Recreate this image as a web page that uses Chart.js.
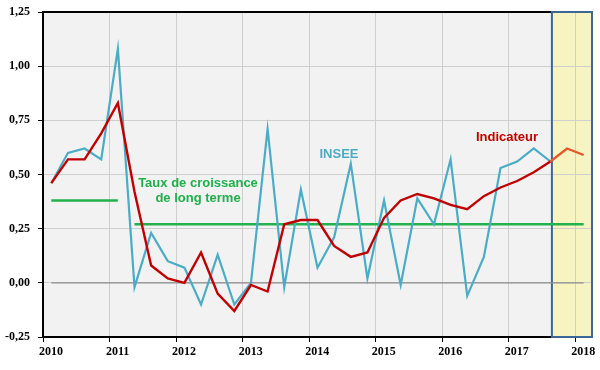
<!DOCTYPE html>
<html>
<head>
<meta charset="utf-8">
<script src="https://cdn.jsdelivr.net/npm/chart.js@4.4.1/dist/chart.umd.min.js"></script>
<style>
  html, body { margin: 0; padding: 0; background: #ffffff; }
  #wrap { width: 600px; height: 370px; }
</style>
</head>
<body>
<div id="wrap"><canvas id="c" width="600" height="370"></canvas></div>
<script>
// ---- Data ----
const quarters = [
  '2010T1','2010T2','2010T3','2010T4',
  '2011T1','2011T2','2011T3','2011T4',
  '2012T1','2012T2','2012T3','2012T4',
  '2013T1','2013T2','2013T3','2013T4',
  '2014T1','2014T2','2014T3','2014T4',
  '2015T1','2015T2','2015T3','2015T4',
  '2016T1','2016T2','2016T3','2016T4',
  '2017T1','2017T2','2017T3','2017T4',
  '2018T1'
];
const insee = [
  0.46, 0.60, 0.62, 0.57,
  1.08, -0.02, 0.23, 0.10,
  0.07, -0.10, 0.13, -0.10,
  0.00, 0.71, -0.02, 0.43,
  0.07, 0.21, 0.55, 0.02,
  0.38, -0.01, 0.39, 0.27,
  0.57, -0.06, 0.12, 0.53,
  0.56, 0.62, 0.56
];
const indicateur = [
  0.46, 0.57, 0.57, 0.69,
  0.83, 0.42, 0.08, 0.02,
  0.00, 0.14, -0.05, -0.13,
  -0.01, -0.04, 0.27, 0.29,
  0.29, 0.17, 0.12, 0.14,
  0.30, 0.38, 0.41, 0.39,
  0.36, 0.34, 0.40, 0.44,
  0.47, 0.51, 0.56, 0.62,
  0.59
];
const forecastStart = '2017T3';
const longTermLevels = [0.38, 0.27];
const longTermFrom = ['2010T1', '2011T2'];
const longTermTo = ['2011T1', '2018T1'];
const yearLabels = ['2010','2011','2012','2013','2014','2015','2016','2017','2018'];
const yTicks = [-0.25, 0, 0.25, 0.5, 0.75, 1, 1.25];

// quarter label -> position on a continuous year axis (middle of quarter)
function qx(label) {
  const y = parseInt(label.slice(0, 4), 10);
  const q = parseInt(label.slice(5), 10);
  return y + (q - 1) / 4 + 0.125;
}

const forecastIdx = quarters.indexOf(forecastStart);

const inseeData = insee.map((v, i) => ({ x: qx(quarters[i]), y: v }));
const indData = indicateur.map((v, i) => ({ x: qx(quarters[i]), y: v }));
const zeroData = [
  { x: qx(quarters[0]), y: 0 },
  { x: qx(quarters[quarters.length - 1]), y: 0 }
];
const longTermSets = longTermLevels.map((lv, i) => ({
  data: [{ x: qx(longTermFrom[i]), y: lv }, { x: qx(longTermTo[i]), y: lv }],
  borderColor: '#22b14c',
  borderWidth: 2.5,
  pointRadius: 0,
  order: 3
}));

function boxLeft(scales) {
  return scales.x.getPixelForValue(qx(forecastStart)) + 1.5;
}

const frame = {
  id: 'frame',
  beforeDraw(chart) {
    const { ctx, chartArea: a, scales } = chart;
    ctx.save();
    ctx.fillStyle = '#f2f2f2';
    ctx.fillRect(a.left, a.top, a.right - a.left, a.bottom - a.top);
    const fx = boxLeft(scales);
    ctx.fillStyle = '#f7f4c1';
    ctx.fillRect(fx, a.top, a.right - fx, a.bottom - a.top);
    ctx.restore();
  },
  beforeDatasetsDraw(chart) {
    const { ctx, chartArea: a, scales } = chart;
    ctx.save();
    ctx.strokeStyle = '#000000';
    ctx.lineWidth = 2;
    ctx.beginPath();
    ctx.moveTo(a.right, a.top);
    ctx.lineTo(a.left, a.top);
    ctx.lineTo(a.left, a.bottom);
    ctx.lineTo(a.right, a.bottom);
    ctx.stroke();
    const fx = boxLeft(scales);
    ctx.strokeStyle = '#3d6896';
    ctx.lineWidth = 2;
    ctx.strokeRect(fx, a.top, a.right - fx, a.bottom - a.top);
    ctx.restore();
  },
  afterDatasetsDraw(chart) {
    const { ctx } = chart;
    ctx.save();
    ctx.textAlign = 'center';
    ctx.textBaseline = 'middle';
    ctx.font = 'bold 13px "Liberation Sans", Arial, sans-serif';
    ctx.fillStyle = '#1fb04a';
    ctx.fillText('Taux de croissance', 198, 183.5);
    ctx.fillText('de long terme', 198, 198.5);
    ctx.fillStyle = '#4bacc6';
    ctx.fillText('INSEE', 339, 154.5);
    ctx.fillStyle = '#c00000';
    ctx.fillText('Indicateur', 507, 137.5);
    ctx.restore();
  }
};

new Chart(document.getElementById('c'), {
  type: 'line',
  data: {
    datasets: [
      {
        data: zeroData,
        borderColor: '#8c8c8c',
        borderWidth: 1.2,
        pointRadius: 0,
        order: 4
      },
      ...longTermSets,
      {
        data: inseeData,
        borderColor: '#4bacc6',
        borderWidth: 2.2,
        pointRadius: 0,
        order: 2
      },
      {
        data: indData,
        borderColor: '#c00000',
        borderWidth: 2.4,
        pointRadius: 0,
        order: 1,
        segment: {
          borderColor: c => (c.p0DataIndex >= forecastIdx ? '#e8562a' : '#c00000')
        }
      }
    ]
  },
  options: {
    responsive: false,
    animation: false,
    layout: { padding: { top: 12, right: 8, left: 0, bottom: 0 } },
    plugins: { legend: { display: false }, tooltip: { enabled: false } },
    scales: {
      x: {
        type: 'linear',
        min: 2010,
        max: 2018.25,
        afterBuildTicks(scale) {
          scale.ticks = yearLabels.map(l => ({ value: parseInt(l, 10) }));
        },
        afterFit(scale) { scale.height = 33; scale.paddingLeft = 0; scale.paddingRight = 0; },
        grid: { color: '#cfcfcf', lineWidth: 1, tickLength: 5, tickColor: '#000000' },
        border: { display: false },
        ticks: {
          color: '#000000',
          font: { family: '"Liberation Serif", "Times New Roman", serif', size: 12, weight: 'bold' },
          padding: 3,
          labelOffset: 8,
          maxRotation: 0,
          autoSkip: false,
          callback: v => {
            const s = String(v);
            return yearLabels.includes(s) ? s : '';
          }
        }
      },
      y: {
        type: 'linear',
        min: -0.25,
        max: 1.25,
        afterBuildTicks(scale) {
          scale.ticks = yTicks.map(v => ({ value: v }));
        },
        afterFit(scale) { scale.width = 43; scale.paddingTop = 0; scale.paddingBottom = 0; },
        grid: { color: '#cfcfcf', lineWidth: 1, tickLength: 5, tickColor: '#000000' },
        border: { display: false },
        ticks: {
          color: '#000000',
          font: { family: '"Liberation Serif", "Times New Roman", serif', size: 12, weight: 'bold' },
          padding: 8,
          callback: v => v.toFixed(2).replace('.', ',')
        }
      }
    }
  },
  plugins: [frame]
});
</script>
</body>
</html>
